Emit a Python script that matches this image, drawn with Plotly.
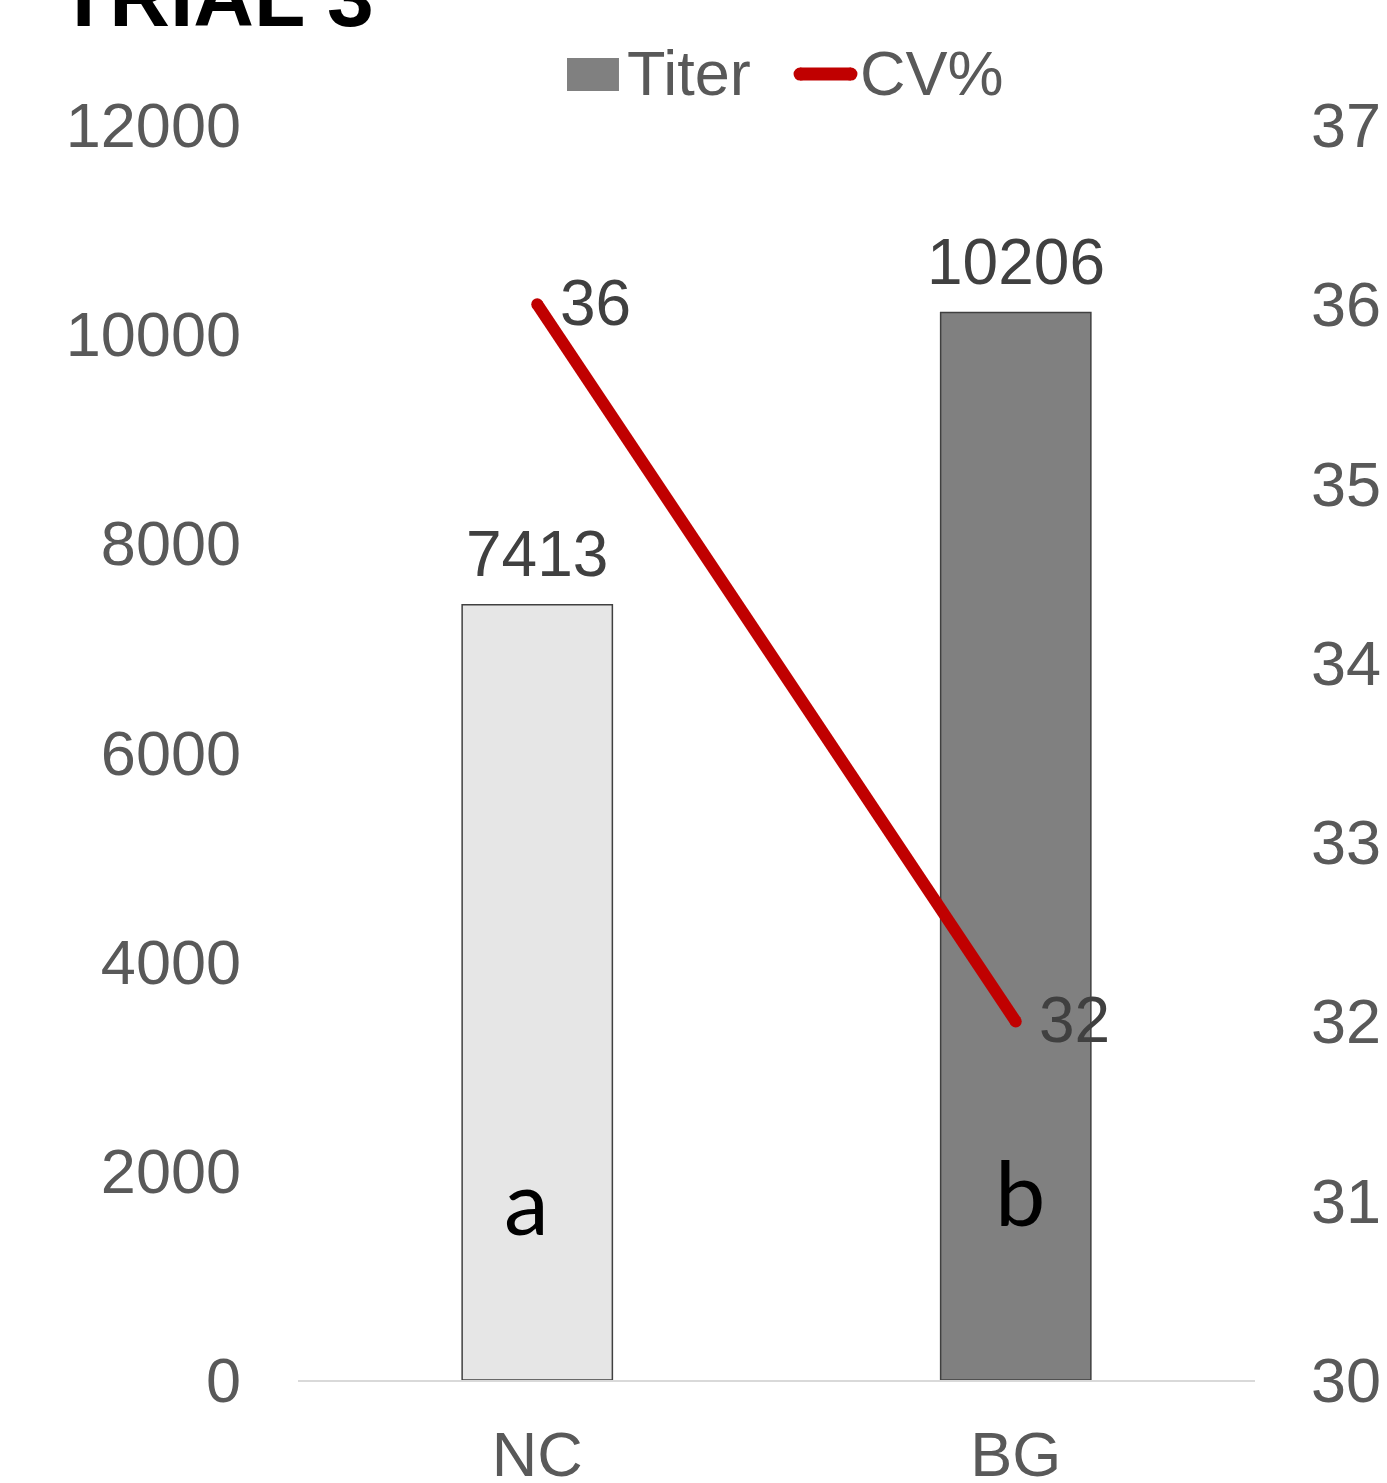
import plotly.graph_objects as go

# ---- data ----
groups = ["NC", "BG"]
titer = [7413, 10206]
cv_pct = [36, 32]
bar_colors = ["#e6e6e6", "#808080"]
sig_letters = ["a", "b"]
title_text = "TRIAL 3"
left_ticks = [0, 2000, 4000, 6000, 8000, 10000, 12000]
right_ticks = [30, 31, 32, 33, 34, 35, 36, 37]

TICK_FONT = dict(family="Liberation Sans, Arial, sans-serif", size=63, color="#595959")
LABEL_FONT = dict(family="Liberation Sans, Arial, sans-serif", size=64, color="#404040")

fig = go.Figure()

# titer bars on the left axis
fig.add_trace(go.Bar(
    x=groups, y=titer, name="Titer",
    marker=dict(color=bar_colors, line=dict(color="#404040", width=1.5)),
    width=0.314, showlegend=False, yaxis="y",
))

# CV% line on the right axis (markers give rounded ends)
fig.add_trace(go.Scatter(
    x=groups, y=cv_pct, name="CV%", mode="lines+markers",
    line=dict(color="#c00000", width=12),
    marker=dict(color="#c00000", size=12),
    showlegend=False, yaxis="y2",
))

annotations = []
# value labels above bars
for g, v in zip(groups, titer):
    annotations.append(dict(x=g, y=v, xref="x", yref="y", text=str(v),
                            showarrow=False, xanchor="center", yanchor="bottom",
                            yshift=13, font=LABEL_FONT))
# value labels beside line points
for g, v in zip(groups, cv_pct):
    annotations.append(dict(x=g, y=v, xref="x", yref="y2", text=str(v),
                            showarrow=False, xanchor="left", yanchor="middle",
                            xshift=21, yshift=1, font=LABEL_FONT))
# significance letters inside bars
letter_font = dict(family="Lato, sans-serif", size=90, color="#000000")
annotations.append(dict(x=groups[0], y=0.1435, xref="x", yref="paper", text=sig_letters[0],
                        showarrow=False, xanchor="center", yanchor="middle",
                        xshift=-11, font=letter_font))
annotations.append(dict(x=groups[1], y=0.1506, xref="x", yref="paper", text=sig_letters[1],
                        showarrow=False, xanchor="center", yanchor="middle",
                        xshift=4, font=letter_font))
# title (partly above the page edge)
annotations.append(dict(x=-0.2528, y=1.063, xref="paper", yref="paper", text="<b>" + title_text + "</b>",
                        showarrow=False, xanchor="left", yanchor="bottom",
                        font=dict(family="Liberation Sans, Arial, sans-serif", size=84, color="#000000")))
# legend entries
annotations.append(dict(x=0.3417, y=1.0414, xref="paper", yref="paper", text="Titer",
                        showarrow=False, xanchor="left", yanchor="middle", font=TICK_FONT))
annotations.append(dict(x=0.5852, y=1.0414, xref="paper", yref="paper", text="CV%",
                        showarrow=False, xanchor="left", yanchor="middle", font=TICK_FONT))

# legend swatches: grey box and a round-capped red stroke
cap_dx = 13 / 957
cap_dy = 13 / 1255
lx0, lx1, ly = 0.5246, 0.5778, 1.0406
shapes = [
    dict(type="rect", xref="paper", yref="paper", x0=0.2811, x1=0.3354, y0=1.0271, y1=1.0534,
         fillcolor="#808080", line=dict(width=0)),
    dict(type="line", xref="paper", yref="paper", x0=lx0, x1=lx1, y0=ly, y1=ly,
         line=dict(color="#c00000", width=13)),
    dict(type="circle", xref="paper", yref="paper", x0=lx0 - cap_dx / 2, x1=lx0 + cap_dx / 2,
         y0=ly - cap_dy / 2, y1=ly + cap_dy / 2, fillcolor="#c00000", line=dict(width=0)),
    dict(type="circle", xref="paper", yref="paper", x0=lx1 - cap_dx / 2, x1=lx1 + cap_dx / 2,
         y0=ly - cap_dy / 2, y1=ly + cap_dy / 2, fillcolor="#c00000", line=dict(width=0)),
]

fig.update_layout(
    width=1387, height=1483,
    margin=dict(l=298, r=132, t=125, b=103, autoexpand=False),
    paper_bgcolor="white", plot_bgcolor="white",
    xaxis=dict(showgrid=False, showline=True, linecolor="#d9d9d9", linewidth=2,
               tickfont=TICK_FONT, ticks="", ticklabelstandoff=18, zeroline=False,
               automargin=False),
    yaxis=dict(range=[0, 12000], tickvals=left_ticks, ticktext=[str(t) for t in left_ticks],
               showgrid=False, zeroline=False, showline=False, tickfont=TICK_FONT, ticks="",
               ticklabelstandoff=56, automargin=False),
    yaxis2=dict(range=[30, 37], tickvals=right_ticks, ticktext=[str(t) for t in right_ticks],
                overlaying="y", side="right",
                showgrid=False, zeroline=False, showline=False, tickfont=TICK_FONT, ticks="",
                ticklabelstandoff=55, automargin=False),
    annotations=annotations,
    shapes=shapes,
    showlegend=False,
)

fig.write_html("out.html")
